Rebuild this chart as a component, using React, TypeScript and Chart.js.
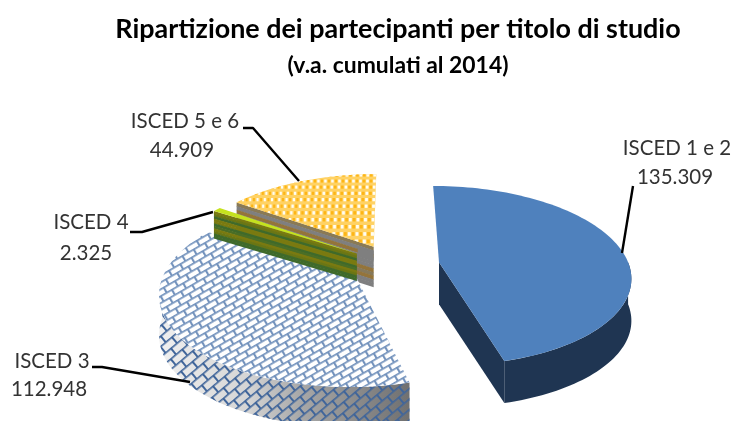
import React, { useEffect, useRef } from "react";
import { Chart, registerables } from "chart.js";

Chart.register(...registerables);

const titleText = "Ripartizione dei partecipanti per titolo di studio";
const subtitleText = "(v.a. cumulati al 2014)";
const categories = ["ISCED 1 e 2", "ISCED 3", "ISCED 4", "ISCED 5 e 6"];
const values = [135309, 112948, 2325, 44909];

// label anchors: [x1, y1, x2, y2] text centres, then the leader polyline
const labelCentres = [
  [677, 148, 675, 177],
  [52, 361, 49, 389],
  [91, 222, 86, 253],
  [185, 121, 182, 150],
];
const leaders = [
  [[633, 186], [622, 253]],
  [[92, 367], [102, 367], [190, 382]],
  [[130, 232], [142, 232], [213, 212]],
  [[243, 128], [253, 128], [299, 181]],
];
const wallDepth = [42, 40, 27, 40];

const CX = 394, CY = 265, AX = 190, AY = 88.5, PERSP = 0.15, EXPLODE = 0.24;
const project = (u: number, v: number): [number, number] => {
  const s = 1 / (1 - PERSP * v);
  return [CX + AX * u * s, CY + AY * v * s];
};
const fmt = (n: number) => String(n).replace(/\B(?=(\d{3})+$)/g, ".");

function brickPattern(ctx: CanvasRenderingContext2D, w: number, h: number, lw: number, col: string, angle: number) {
  const c = document.createElement("canvas");
  c.width = w; c.height = h * 2;
  const t = c.getContext("2d")!;
  t.fillStyle = col;
  t.fillRect(0, 0, w, lw);
  t.fillRect(0, h, w, lw);
  t.fillRect(Math.round(w / 4), 0, lw + 0.4, h);
  t.fillRect(Math.round((3 * w) / 4), h, lw + 0.4, h);
  const p = ctx.createPattern(c, "repeat")!;
  p.setTransform(new DOMMatrix().rotate(angle));
  return p;
}

const bandsI4 = ["#7a7a10", "#6a7614", "#3f6a2a", "#7a7a10", "#7a7a10", "#3f6a2a", "#4a6e26", "#7a7a10", "#6a7614", "#3f6a2a", "#3f6a2a"];
const bandsI56 = ["#8a7a55", "#7f7f7f", "#94743a", "#7f7f7f", "#7f7f7f", "#7f7f7f", "#94743a", "#86795a", "#94743a", "#7f7f7f", "#7f7f7f"];

const pie3d = {
  id: "pie3d",
  beforeDatasetsDraw(chart: any) {
    const ctx: CanvasRenderingContext2D = chart.ctx;
    const arcs = chart.getDatasetMeta(0).data;
    const topBrick = brickPattern(ctx, 13, 6, 1.7, "#7493bd", -30);
    const wallBrick = brickPattern(ctx, 15, 8, 1.6, "#40659a", -40);

    const drawSlice = (i: number) => {
      const arc = arcs[i];
      const a0: number = arc.startAngle, a1: number = arc.endAngle;
      const mid = (a0 + a1) / 2;
      const ou = EXPLODE * Math.cos(mid), ov = EXPLODE * Math.sin(mid);
      const rim = (t: number) => project(ou + Math.cos(t), ov + Math.sin(t));
      const apex = project(ou, ov);
      const depth = wallDepth[i];

      const edgeWall = (t: number) => {
        const r = rim(t);
        if (i === 0 || i === 1) {
          ctx.beginPath();
          ctx.moveTo(apex[0], apex[1]); ctx.lineTo(r[0], r[1]);
          ctx.lineTo(r[0], r[1] + depth); ctx.lineTo(apex[0], apex[1] + depth);
          ctx.closePath();
          ctx.fillStyle = i === 0 ? "#1f3552" : "#999";
          ctx.fill();
          return;
        }
        const bands = i === 2 ? bandsI4 : bandsI56;
        bands.forEach((col, b) => {
          const f0 = (b / bands.length) * depth, f1 = ((b + 1) / bands.length) * depth + 0.5;
          ctx.beginPath();
          ctx.moveTo(apex[0], apex[1] + f0); ctx.lineTo(r[0], r[1] + f0);
          ctx.lineTo(r[0], r[1] + f1); ctx.lineTo(apex[0], apex[1] + f1);
          ctx.closePath();
          ctx.fillStyle = col;
          ctx.fill();
        });
        if (i === 3) {
          // the plain grey end of the wall, beyond the narrow slice in front
          ctx.beginPath();
          ctx.moveTo(apex[0], apex[1] + 4);
          ctx.lineTo(apex[0] - 16, apex[1] + 2);
          ctx.lineTo(apex[0] - 16, apex[1] + 10);
          ctx.lineTo(apex[0], apex[1] + 14);
          ctx.closePath();
          ctx.fillStyle = "#7f7f7f";
          ctx.fill();
        }
      };
      if (Math.cos(a0) < -0.01) edgeWall(a0);
      if (Math.cos(a1) > 0.01) edgeWall(a1);

      const lo = Math.max(a0, 0), hi = Math.min(a1, Math.PI);
      if (hi > lo) {
        ctx.beginPath();
        const n = 48;
        for (let k = 0; k <= n; k++) {
          const p = rim(lo + ((hi - lo) * k) / n);
          if (k === 0) ctx.moveTo(p[0], p[1]); else ctx.lineTo(p[0], p[1]);
        }
        for (let k = n; k >= 0; k--) {
          const p = rim(lo + ((hi - lo) * k) / n);
          ctx.lineTo(p[0], p[1] + depth);
        }
        ctx.closePath();
        if (i === 0) {
          ctx.fillStyle = "#1f3552";
          ctx.fill();
        } else {
          const g = ctx.createLinearGradient(160, 0, 410, 0);
          g.addColorStop(0, "#f0f0f0");
          g.addColorStop(0.36, "#d4d4d4");
          g.addColorStop(0.56, "#a8a8a8");
          g.addColorStop(1, "#707070");
          ctx.fillStyle = g;
          ctx.fill();
          ctx.fillStyle = wallBrick;
          ctx.fill();
        }
      }

      const topPath = () => {
        ctx.beginPath();
        ctx.moveTo(apex[0], apex[1]);
        const n = 96;
        for (let k = 0; k <= n; k++) {
          const p = rim(a0 + ((a1 - a0) * k) / n);
          ctx.lineTo(p[0], p[1]);
        }
        ctx.closePath();
      };
      topPath();
      if (i === 0) {
        ctx.fillStyle = "#4f81bd";
        ctx.fill();
      } else if (i === 1) {
        ctx.fillStyle = "#ffffff";
        ctx.fill();
        ctx.fillStyle = topBrick;
        ctx.fill();
      } else if (i === 2) {
        ctx.fillStyle = "#c6e21e";
        ctx.fill();
      } else {
        ctx.fillStyle = "#ffd264";
        ctx.fill();
        ctx.save();
        topPath();
        ctx.clip();
        const du = 0.0215, dv = 0.092;
        for (let r = 0; r < 20; r++) {
          const v = ov - 1.1 + r * dv;
          for (let c = 0; c < 100; c++) {
            const u = ou - 1.05 + c * du;
            const a = project(u, v), b = project(u + du * 0.8, v + dv * 0.5);
            ctx.fillStyle = c % 2 === 0 ? "#fffdf4" : "#fdb515";
            ctx.fillRect(a[0], a[1], b[0] - a[0], b[1] - a[1]);
          }
        }
        ctx.restore();
      }
    };

    [3, 1, 2, 0].forEach(drawSlice);

    ctx.save();
    ctx.strokeStyle = "#000";
    ctx.lineWidth = 2.4;
    ctx.lineJoin = "round";
    leaders.forEach((l) => {
      ctx.beginPath();
      l.forEach((p, k) => (k === 0 ? ctx.moveTo(p[0], p[1]) : ctx.lineTo(p[0], p[1])));
      ctx.stroke();
    });
    ctx.fillStyle = "#333";
    ctx.font = "20.5px Lato";
    ctx.textAlign = "center";
    ctx.textBaseline = "middle";
    categories.forEach((name, i) => {
      const c = labelCentres[i];
      ctx.fillText(name, c[0], c[1]);
      ctx.fillText(fmt(values[i]), c[2], c[3]);
    });
    ctx.restore();
    return false;
  },
};

export default function App() {
  const ref = useRef<HTMLCanvasElement>(null);
  useEffect(() => {
    const chart = new Chart(ref.current!, {
      type: "pie",
      data: { labels: categories, datasets: [{ data: values }] },
      options: {
        animation: false,
        responsive: false,
        layout: { padding: { left: 64 } },
        plugins: {
          legend: { display: false },
          tooltip: { enabled: false },
          title: {
            display: true,
            text: titleText,
            color: "#000",
            font: { family: "Lato", size: 26.9, weight: "bold" },
            padding: { top: 13, bottom: 4 },
          },
          subtitle: {
            display: true,
            text: subtitleText,
            color: "#000",
            font: { family: "Lato", size: 22.9, weight: "bold" },
            padding: { top: 3, bottom: 10 },
          },
        },
      },
      plugins: [pie3d],
    } as any);
    return () => chart.destroy();
  }, []);
  return (
    <canvas
      ref={ref}
      width={732}
      height={421}
      style={{ position: "fixed", left: 0, top: 0, width: 732, height: 421, filter: "blur(0.7px)" }}
    />
  );
}
